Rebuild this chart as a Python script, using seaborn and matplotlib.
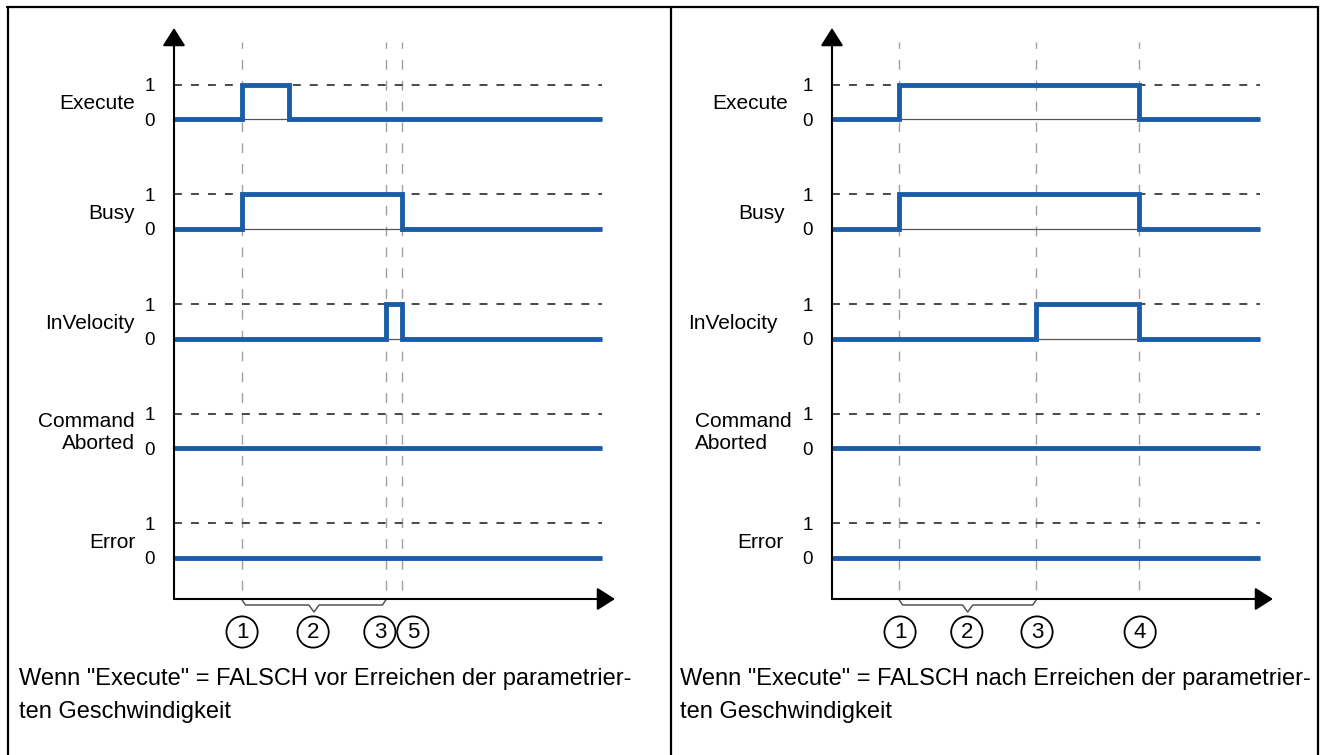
import matplotlib
matplotlib.use("Agg")
import matplotlib.pyplot as plt
from matplotlib.lines import Line2D
import pandas as pd
import seaborn as sns

sns.set_style("white")
plt.rcParams["font.family"] = ["Liberation Sans", "DejaVu Sans"]
plt.rcParams["text.color"] = "black"
plt.rcParams["ytick.color"] = "black"

# signal names, top to bottom
signals = ["Execute", "Busy", "InVelocity", "Command\nAborted", "Error"]

# left diagram: Execute goes FALSE before velocity is reached
left_times = [0, 1.59, 2.69, 4.95, 5.33, 10]
left_execute = [0, 1, 0, 0, 0, 0]
left_busy = [0, 1, 1, 1, 0, 0]
left_invelocity = [0, 0, 0, 1, 0, 0]
left_aborted = [0, 0, 0, 0, 0, 0]
left_error = [0, 0, 0, 0, 0, 0]
left_markers = [1.59, 4.95, 5.33]
left_circle_labels = ["1", "2", "3", "5"]
left_circle_x = [1.59, 3.25, 4.81, 5.58]
left_brace = [1.59, 4.95]
left_caption = ['Wenn "Execute" = FALSCH vor Erreichen der parametrier-',
                "ten Geschwindigkeit"]

# right diagram: Execute goes FALSE after velocity is reached
right_times = [0, 1.57, 4.77, 7.17, 10]
right_execute = [0, 1, 1, 0, 0]
right_busy = [0, 1, 1, 0, 0]
right_invelocity = [0, 0, 1, 0, 0]
right_aborted = [0, 0, 0, 0, 0]
right_error = [0, 0, 0, 0, 0]
right_markers = [1.57, 4.77, 7.17]
right_circle_labels = ["1", "2", "3", "4"]
right_circle_x = [1.59, 3.15, 4.79, 7.2]
right_brace = [1.57, 4.77]
right_caption = ['Wenn "Execute" = FALSCH nach Erreichen der parametrier-',
                 "ten Geschwindigkeit"]

BLUE = "#1a5ca8"
W, H = 1325, 755
PX_X = 42.8   # pixels per time unit
PX_Y = 34.6   # pixels per logic level
SPACING = 3.17
T_END = 10


def fx(px):
    return px / W


def fy(py):
    return 1 - py / H


def dy(py):
    # pixel row -> data y (Error baseline at row 558)
    return (558 - py) / PX_Y


def draw_panel(fig, x0, times, levels, markers, circle_x, circle_labels,
               brace, label_pos, caption_x, caption):
    ax = fig.add_axes([fx(x0), fy(599), 441 / W, (599 - 28) / H])
    ax.set_xlim(0, 441 / PX_X)
    ax.set_ylim(dy(599), dy(28))

    rows = []
    bases = []
    for k, name in enumerate(signals):
        base = (len(signals) - 1 - k) * SPACING
        bases.append(base)
        for t, v in zip(times, levels[k]):
            rows.append({"signal": name, "t": t, "y": base + v})
    df = pd.DataFrame(rows)

    # guide lines
    ax.vlines(markers, dy(590), dy(42), colors="#a0a0a0", lw=1.0,
              linestyles=(0, (7, 8)))
    ax.hlines([b + 1 for b in bases], 0, T_END, colors="#3a3a3a", lw=1.3,
              linestyles=(0, (4.4, 5)))
    ax.hlines(bases, 0, T_END, colors="#555555", lw=0.9)

    sns.lineplot(data=df, x="t", y="y", units="signal", estimator=None,
                 sort=False, drawstyle="steps-post", color=BLUE,
                 linewidth=3.5, solid_joinstyle="miter",
                 solid_capstyle="butt", legend=False, ax=ax)
    ax.set_xlabel("")
    ax.set_ylabel("")

    ticks, tick_labels = [], []
    for b in bases:
        ticks += [b, b + 1]
        tick_labels += ["0", "1"]
    ax.set_yticks(ticks, tick_labels)
    ax.set_xticks([])
    ax.tick_params(axis="y", length=0, pad=14, labelsize=13.5,
                   labelcolor="black")
    for s in ax.spines.values():
        s.set_visible(False)

    # axes with arrow heads
    arrow = dict(arrowstyle="-|>,head_length=0.55,head_width=0.35",
                 color="black", lw=1.5, shrinkA=0, shrinkB=0,
                 mutation_scale=20)
    ax.annotate("", xy=(0, 1), xytext=(0, 0), xycoords="axes fraction",
                arrowprops=arrow)
    ax.annotate("", xy=(1, 0), xytext=(0, 0), xycoords="axes fraction",
                arrowprops=arrow)

    # signal names
    for k, name in enumerate(signals):
        lx, ha = label_pos[k]
        ax.text(lx, bases[k] + 0.45, name, ha=ha, va="center",
                multialignment=ha, fontsize=15, clip_on=False)

    # brace under the axis
    a, b = brace
    m = (a + b) / 2
    y0, y1, y2 = dy(600), dy(605), dy(612)
    ax.plot([a, a + 0.08, m - 0.12, m, m + 0.12, b - 0.08, b],
            [y0, y1, y1, y2, y1, y1, y0], color="#555555", lw=1.1,
            clip_on=False)

    # circled step numbers
    for x, lbl in zip(circle_x, circle_labels):
        ax.text(x, dy(632), lbl, ha="center", va="center", fontsize=16,
                clip_on=False,
                bbox=dict(boxstyle="circle,pad=0.23", fc="white",
                          ec="black", lw=1.3))

    fig.text(fx(caption_x), fy(679), caption[0], va="center", fontsize=17)
    fig.text(fx(caption_x), fy(712), caption[1], va="center", fontsize=17)
    return ax


fig = plt.figure(figsize=(W / 100, H / 100), dpi=100)

left_labels = [(-0.91, "right")] * 5
right_labels = [(-1.03, "right"), (-1.1, "right"), (-1.26, "right"),
                (-3.2, "left"), (-1.14, "right")]

draw_panel(fig, 174, left_times,
           [left_execute, left_busy, left_invelocity, left_aborted, left_error],
           left_markers, left_circle_x, left_circle_labels, left_brace,
           left_labels, 19, left_caption)
draw_panel(fig, 832, right_times,
           [right_execute, right_busy, right_invelocity, right_aborted,
            right_error],
           right_markers, right_circle_x, right_circle_labels, right_brace,
           right_labels, 680, right_caption)

# frame around both panels
frame = [([7, 1318], [7, 7]), ([8, 8], [7, 755]),
         ([671, 671], [7, 755]), ([1318, 1318], [7, 755])]
for xs, ys in frame:
    fig.add_artist(Line2D([fx(v) for v in xs], [fy(v) for v in ys],
                          transform=fig.transFigure, color="black", lw=1.6))

fig.savefig("out.png", dpi=100)
